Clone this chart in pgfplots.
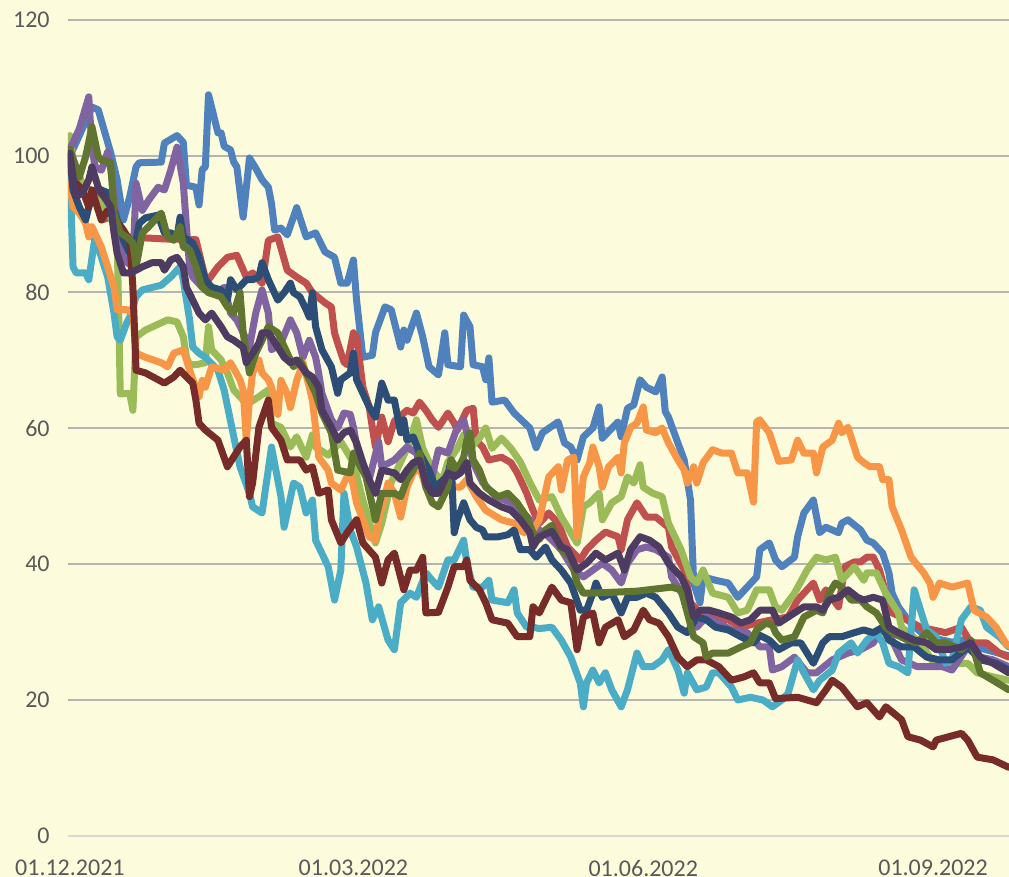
\documentclass[border=0pt]{standalone}
\usepackage{fontspec}
\setmainfont{Carlito}
\usepackage{pgfplots}
\pgfplotsset{compat=1.18}

\definecolor{bg}{HTML}{FCFCDC}
\definecolor{gridgray}{HTML}{B4B4B4}
\definecolor{zerogray}{HTML}{D9D9D9}
\definecolor{labelgray}{HTML}{595959}
\definecolor{s1}{HTML}{4F81BD}
\definecolor{s2}{HTML}{C0504D}
\definecolor{s3}{HTML}{9BBB59}
\definecolor{s4}{HTML}{8064A2}
\definecolor{s5}{HTML}{4BACC6}
\definecolor{s6}{HTML}{F79646}
\definecolor{s7}{HTML}{2C4D75}
\definecolor{s8}{HTML}{772C2A}
\definecolor{s9}{HTML}{5F7530}
\definecolor{s10}{HTML}{4D3B62}

\begin{document}
\begin{tikzpicture}
  % page = 1009 x 877 px at 0.5pt per px
  \fill[bg] (0,0) rectangle (504.5pt,438.5pt);
  \path[use as bounding box] (0,0) rectangle (504.5pt,438.5pt);

  \begin{axis}[
      at={(34pt,20.5pt)}, anchor=south west,
      scale only axis, width=470.5pt, height=408pt,
      xmin=-0.6, xmax=298.1, ymin=0, ymax=120,
      axis line style={draw=none},
      ytick={20,40,...,120},
      extra y ticks={0},
      extra y tick style={grid style={line width=1pt, color=zerogray}},
      xtick={0,90,182,274},
      xticklabels={01.12.2021,01.03.2022,01.06.2022,01.09.2022},
      major tick length=0pt,
      ymajorgrids,
      grid style={line width=1pt, color=gridgray},
      tick label style={font=\fontsize{12}{14}\selectfont, text=labelgray},
      yticklabel style={anchor=east, inner sep=0pt, xshift=-9pt},
      xticklabel style={anchor=north, inner sep=0pt, yshift=-12pt},
      /pgf/number format/assume math mode=true,
      every axis plot/.append style={line width=3.5pt, line join=round, line cap=round, no markers},
    ]

    % series 1 (blue)
    \addplot[s1] coordinates {
      (0,100)(3,103)(7,107.2)(9,106.8)(13,100.4)(15,96.5)(17,90.6)(19,94)(21,98.4)(22,99)
      (29,99.1)(30,101.9)(34,103)(36,102)(37,95.7)(40,95.4)(41,92.8)(42,98)(43,98.4)(44,109)
      (47,103.4)(48,103.4)(49,101.4)(51,100.9)(52,99.1)(53,98.4)(55,91)(57,99.7)(59,98.2)(61,96.5)
      (63,95.4)(64,93)(65,89.1)(67,89.4)(69,88.4)(72,92.4)(75,88.1)(78,88.7)(81,85.9)(84,85.1)
      (86,81.3)(88,81.3)(90,84.7)(91,78.8)(93,70.4)(96,70.7)(97,74)(100,77.8)(102,77.4)(105,71.9)
      (106,74.4)(107,72.9)(110,76.9)(112,73.4)(114,69)(117,67.8)(119,74)(120,69.3)(124,69)(125,76.6)
      (127,74.9)(128,69.3)(131,69)(132,67.1)(133,70.3)(134,63.8)(138,64.1)(141,62.2)(146,60)(148,57.1)
      (150,59.3)(155,60.9)(157,57.8)(159,57.2)(161,55.3)(163,58.7)(166,60)(168,63.1)(169,58.5)(174,60.9)
      (175,58.7)(177,62.9)(179,63.4)(181,67.1)(183,66)(186,65.3)(188,67.5)(189,62.4)(190,61.6)(193,57.8)
      (195,55.3)(197,49.4)(198,37.2)(200,34.3)(201,38.1)(205,37.6)(209,37.2)(212,35.1)(215,36.6)(218,38.1)
      (219,42.1)(222,43.1)(224,40.6)(226,39.6)(230,41)(231,44)(233,47.5)(236,49.4)(238,44.6)(240,45.4)
      (244,44.6)(245,46)(247,46.5)(251,45)(253,43.5)(255,43.1)(258,41.6)(260,38.7)(261,35.7)(263,33.7)
      (266,31.8)(270,30)(275,29)(280,28.5)(285,29)(290,27.5)(298,26.5)
    };

    % series 2 (red)
    \addplot[s2] coordinates {
      (0,100)(1,95)(5,95.5)(9,94)(10,90.6)(13,91)(15,89.6)(18,88.1)(22,88)(30,87.8)
      (40,87.7)(43,82)(44,81.8)(47,83.7)(50,85.1)(53,85.4)(56,82.2)(58,82.8)(61,81.3)(63,87.6)
      (66,88.1)(69,83.2)(72,82.2)(75,81.3)(77,79.9)(81,78.4)(83,77.8)(84,74)(85,72.5)(87,69.7)
      (88,69.3)(90,74)(91,73.4)(93,66)(95,63.1)(96,60.1)(97,57.2)(99,61.6)(101,58)(103,61)
      (107,62.6)(109,62.2)(111,63.8)(113,62.6)(115,61.2)(117,60.1)(120,62.2)(122,60.7)(123,59.7)(126,62.6)
      (128,62.9)(129,58.2)(131,57.2)(133,55.3)(137,55.7)(140,54.9)(142,53.4)(145,50.4)(147,47.9)(149,46)
      (152,47.5)(155,46)(158,42.5)(162,40.6)(164,42.1)(167,43.5)(170,44.7)(174,44)(175,42.1)(177,46.5)
      (180,49)(183,46.9)(186,46.9)(190,45.4)(191,42.5)(195,39.1)(197,34.3)(200,32.8)(204,32.2)(209,31.8)
      (213,30.7)(218,31.3)(223,31.8)(228,32.2)(231,34.7)(236,37.2)(238,34.7)(240,36.2)(244,33.7)(246,39.6)
      (249,40.3)(251,40.3)(253,41)(255,41)(257,39.1)(259,35.7)(261,32.8)(264,32.2)(270,30.7)(274,30.3)
      (278,29.9)(283,30.7)(286,28.4)(291,28.4)(295,26.9)(298,26.3)
    };

    % series 3 (green)
    \addplot[s3] coordinates {
      (0,103)(1,99.4)(3,97)(5,95)(10,93)(13,91)(15,88)(16,65)(19,65.1)(20,62.6)
      (21,73.4)(24,74.4)(31,75.9)(34,75.6)(36,73.4)(37,70.4)(38,69.3)(40,69.3)(43,69.6)(44,74.9)
      (45,71.5)(48,70)(50,68.1)(52,65.6)(55,64.1)(57,63.7)(60,64.6)(63,65.6)(64,60.7)(67,60.1)
      (70,57.2)(72,58.7)(75,55.7)(77,59)(78,57.2)(82,56)(86,58)(90,54.9)(93,49.4)(97,43.1)
      (99,46)(102,52)(103,53)(106,56)(108,58)(110,61.2)(112,57)(115,54)(118,52)(120,55)
      (123,57)(125,59)(127,57)(130,58.5)(132,60)(134,57)(137,58.5)(140,57)(143,55)(146,52)
      (149,49.4)(153,49.9)(156,46.9)(159,44.6)(161,43.1)(163,48.4)(165,49)(168,50.4)(169,46.5)(172,49)
      (175,49.9)(177,52.8)(179,51.9)(181,54.6)(182,51.3)(185,50.4)(188,49.9)(190,46)(194,42.1)(197,38.1)
      (199,37.2)(201,39.1)(204,35.7)(209,35.1)(212,32.8)(215,33.2)(218,36.2)(222,36.2)(224,33.7)(226,33.2)
      (230,35.7)(234,39.1)(237,41)(240,40.6)(243,41)(245,37.6)(249,39.6)(252,37.6)(253,38.7)(256,38.7)
      (259,35.7)(263,32.8)(264,30.7)(270,28.4)(275,24.9)(280,25.4)(285,25.4)(288,24)(293,23.4)(298,22.9)
    };

    % series 4 (purple)
    \addplot[s4] coordinates {
      (0,101)(3,104)(6,108.7)(7,101.3)(8,98.4)(10,97.9)(12,100.6)(13,97.9)(15,90.1)(17,85.1)
      (18,84.4)(20,83.7)(21,96)(23,92)(25,93.5)(28,95.4)(30,95)(32,97.9)(34,101.3)(36,96)
      (37,89.6)(38,83.7)(39,82.2)(42,80.7)(44,80.7)(47,79.9)(49,80.7)(51,76.9)(53,75.9)(55,74)
      (57,71.9)(59,76.9)(61,80.3)(63,76.9)(64,71.5)(67,72.5)(70,75.9)(72,74)(74,70.4)(76,72.9)
      (78,70.4)(79,68)(80,65.1)(83,61.2)(85,60)(87,62.2)(89,62)(90,60.1)(92,55)(95,52.4)
      (98,58)(99,54.3)(103,55.3)(107,57.2)(110,56.3)(114,50.9)(117,56.8)(120,56.3)(123,60.1)(125,61.2)
      (126,59.3)(128,54.9)(131,52)(135,50)(140,49)(145,47)(149,45)(152,44)(156,42.1)(160,39.1)
      (163,38.1)(166,39.1)(169,40.1)(172,39.1)(175,37.2)(177,40.1)(180,42.1)(183,42.5)(186,42.1)(190,41)
      (191,38.1)(195,35.1)(197,32.2)(199,30.7)(202,32.2)(206,31.3)(210,30.3)(215,29.9)(218,28.4)(219,27.8)
      (222,27.8)(223,24.4)(226,24.9)(230,26.3)(234,24)(237,24)(242,25.9)(247,26.9)(251,27.4)(255,28.4)
      (258,30.7)(261,28.8)(264,25.9)(269,24.9)(273,24.9)(277,24.9)(280,24.4)(285,27.8)(289,26.3)(293,25.9)
      (298,24.9)
    };

    % series 5 (aqua)
    \addplot[s5] coordinates {
      (0,97.5)(1,83.7)(2,82.8)(5,82.8)(6,81.8)(8,88.1)(10,85.1)(12,82.2)(14,76.9)(15,73.4)
      (16,72.9)(18,75.4)(19,76.3)(21,79.3)(23,80.3)(29,81)(31,81.8)(32,82.2)(34,83.2)(35,83.7)
      (36,81.8)(38,75.9)(39,71.9)(41,71)(43,70.4)(47,68.5)(49,65.5)(51,61)(54,54.3)(57,50.4)
      (58,48.4)(61,47.5)(64,57.2)(67,49.9)(68,45.4)(71,51.9)(73,51.3)(75,47.5)(77,49.4)(78,43.5)
      (82,39.6)(84,34.7)(86,39.1)(87,50.4)(89,45)(91,42.5)(94,37.2)(96,31.8)(98,33.7)(101,28.8)
      (103,27.4)(105,34.3)(108,35.7)(110,35.1)(113,38.7)(115,37.6)(117,36.6)(120,40.6)(122,40.6)(125,43.5)
      (126,40.1)(128,36.6)(131,36.6)(133,37.6)(134,34.7)(139,34.3)(141,36.2)(142,32.8)(145,30.7)(147,30.7)
      (149,30.5)(153,30.7)(156,28.8)(159,26.3)(162,22.5)(163,19)(164,22.5)(166,24.4)(168,22.5)(170,24)
      (172,21.5)(175,19)(177,21.5)(180,26.9)(182,24.9)(185,24.9)(188,25.9)(190,27.4)(193,24.4)(195,21)
      (196,24)(199,21.5)(202,21.9)(204,24)(206,24)(210,21.9)(212,20)(216,20.4)(220,20)(223,19)
      (226,20)(228,21)(231,25.9)(233,24)(236,21.5)(238,22.9)(242,24.4)(244,26.9)(248,28.4)(250,26.9)
      (253,28.8)(256,29.9)(258,28.4)(260,25.4)(263,24.9)(266,24)(268,36.2)(270,33.2)(272,30.3)(275,29.3)
      (278,25.4)(280,25.9)(283,31.8)(286,33.7)(289,33.2)(291,30.7)(295,29.3)(298,27.8)
    };

    % series 6 (orange)
    \addplot[s6] coordinates {
      (0,96)(1,92.5)(3,91.6)(5,90.1)(6,88.1)(7,89.6)(10,86.6)(12,83.7)(14,80.7)(15,77.4)
      (18,77.4)(20,76.9)(21,71)(24,70.4)(29,69.6)(31,69)(33,71)(36,71.5)(38,68.5)(41,64.6)
      (42,67)(43,66)(45,69)(49,68.5)(51,69.6)(54,67.1)(55,65.6)(56,58.2)(57,64.1)(58,68.1)
      (60,70)(61,68.1)(63,67.1)(64,66)(66,62)(67,67)(69,65)(70,63)(72,67)(74,69.6)
      (76,66)(77,64)(78,60)(79,55.7)(82,53.8)(83,51.9)(86,50.9)(89,53.8)(91,49)(93,46.5)
      (95,44)(97,43.5)(98,46.5)(101,51.9)(103,50.4)(105,46.9)(107,51.3)(109,53.4)(111,54.3)(113,51.3)
      (115,50.4)(117,51.3)(120,52.8)(122,51.3)(124,51.3)(126,52.4)(129,49.9)(132,47.9)(137,46.5)(141,46)
      (144,44.6)(147,45)(149,46.5)(152,52.8)(155,54.3)(156,50.9)(158,55.3)(160,55.7)(161,44)(163,52.8)
      (165,54.9)(166,57.2)(168,54.3)(169,51.3)(171,54.3)(174,55.7)(175,53.4)(176,57.8)(178,60.1)(180,60.7)
      (182,63.1)(183,59.7)(186,59.3)(188,60)(190,57.8)(193,55.3)(195,53.8)(196,51.9)(198,54.3)(199,51.9)
      (201,54.9)(204,56.8)(207,56.3)(210,56.3)(212,53.4)(215,53.4)(217,49.1)(218,60.9)(219,61.2)(222,59.3)
      (225,55.1)(229,55.3)(231,58.2)(233,56.3)(236,56.3)(237,53.4)(239,57.2)(242,58.2)(244,60.7)(245,59.3)
      (247,60.1)(250,55.7)(252,54.9)(254,54.3)(257,54.3)(258,52.4)(260,52.4)(261,48.4)(264,45)(267,41)
      (271,38.7)(273,37.2)(274,35.1)(276,37.2)(280,36.6)(285,37.2)(287,33.2)(291,32.2)(294,30.7)(297,28.4)
      (298,28)
    };

    % series 7 (dark blue)
    \addplot[s7] coordinates {
      (0,100)(1,95)(3,92.5)(5,90.6)(6,92.5)(8,95)(10,95)(12,94.6)(13,93.5)(15,90.6)
      (17,87.6)(20,84.7)(21,87.6)(22,90.1)(24,90.9)(28,91.3)(30,88.7)(32,88.7)(34,88.1)(35,91)
      (36,88.1)(39,87.2)(41,85.1)(43,81.8)(45,80.7)(48,80.3)(50,78.8)(51,81.8)(53,80.3)(56,81.8)
      (58,81.8)(60,82.2)(61,84.3)(63,81.8)(66,78.8)(68,79.9)(70,81.3)(71,79.9)(73,79.3)(75,77.4)
      (76,76.3)(77,79.9)(78,74.9)(80,71.5)(83,69)(85,65.1)(86,67.1)(89,68.1)(90,71)(91,67.1)
      (93,65.1)(95,63.1)(97,61.6)(99,66.6)(101,64.1)(103,64.1)(105,59.3)(106,61.2)(107,58.2)(109,58.7)
      (111,56.3)(114,53.8)(116,51.3)(120,53)(121,55.3)(122,44.6)(123,46.5)(125,49)(127,46.5)(129,45.4)
      (131,45)(132,44)(136,44)(139,44.3)(141,45)(143,42.1)(146,42.1)(148,41)(151,42.5)(153,40.6)
      (156,39.1)(159,37.2)(162,33.2)(164,33.2)(166,35.7)(167,37.2)(169,35.1)(172,35.7)(175,32.8)(177,35.1)
      (180,35.1)(183,35.7)(186,35.1)(190,32.8)(193,30.7)(196,29.9)(199,32.2)(202,31.8)(205,30.7)(209,30.3)
      (213,29.3)(217,28.4)(219,29.5)(222,28.8)(225,27.4)(229,28.4)(232,28.4)(236,25.4)(239,28.4)(241,29.3)
      (245,29.3)(249,29.9)(252,30.3)(255,29.9)(258,30.7)(260,28.8)(264,27.8)(268,27.8)(272,26.3)(276,25.9)
      (280,25.9)(285,27.8)(289,25.9)(294,25.4)(298,24.4)
    };

    % series 8 (dark red)
    \addplot[s8] coordinates {
      (0,100)(1,96.5)(4,95)(6,92.5)(7,95)(9,92)(10,90.6)(12,92)(14,91)(17,89.1)
      (19,87.6)(20,80.7)(21,68.5)(24,68.1)(28,67.1)(30,66.6)(33,67.5)(35,68.5)(37,67.5)(39,66.6)
      (40,64.1)(41,60.7)(43,59.7)(47,58.2)(50,54.3)(54,57.2)(56,58.2)(57,49.9)(58,51.9)(60,60.1)
      (63,64.1)(64,60.1)(67,58.2)(69,55.3)(71,55.3)(73,55.3)(75,53.8)(77,54.3)(79,50.4)(82,50.9)
      (83,46.5)(86,43.1)(88,44.6)(91,46.5)(93,43.1)(97,41)(99,37.2)(101,40.6)(103,41.6)(106,36.2)
      (108,39.1)(110,39.1)(112,41)(113,32.8)(117,32.9)(120,36.6)(122,39.6)(125,39.6)(126,40.6)(127,37.6)
      (130,36.2)(132,34.3)(134,31.8)(139,31.3)(142,29.3)(146,29.3)(147,33.7)(149,32.8)(151,34.7)(153,36.6)
      (156,34.7)(159,34.3)(161,27.4)(163,32.2)(166,32.8)(168,28.4)(170,30.7)(174,31.8)(176,29.3)(179,30.3)
      (182,33.2)(184,31.8)(187,31.3)(190,29.3)(193,26.3)(196,24.9)(199,25.9)(202,25.9)(206,24.9)(210,22.9)
      (214,23.4)(217,24)(219,22.5)(222,22.5)(224,20.2)(231,20.4)(237,19.6)(240,21.5)(242,22.9)(245,21.9)
      (250,19)(253,19.6)(257,17.5)(259,19)(264,17.1)(266,14.6)(270,14.1)(274,13.1)(275,14.1)(279,14.6)
      (283,15.1)(285,14.1)(288,11.6)(293,11.2)(298,10.1)
    };

    % series 9 (dark green)
    \addplot[s9] coordinates {
      (0,101)(3,96.9)(5,99.9)(7,104.3)(9,99.9)(10,99.4)(13,99)(14,91.6)(16,88.7)(18,88.1)
      (20,87.2)(21,83.7)(23,88.7)(25,89.6)(29,91.6)(31,88.1)(33,87.6)(35,89.6)(36,86.6)(38,86.2)
      (40,83.7)(42,80.7)(44,79.9)(48,79.3)(50,77.8)(52,76.9)(54,79.9)(55,74)(57,68.1)(59,71)
      (61,72.9)(63,74.9)(66,74)(69,71)(71,69)(73,70)(76,67.1)(78,65.1)(80,62.2)(83,59.3)
      (85,53.8)(89,53.4)(90,56.3)(94,52.8)(97,46.5)(99,50.4)(103,50.4)(105,49.9)(107,52.4)(109,53.8)
      (111,56.3)(113,51.3)(115,49)(117,48.4)(120,51.3)(121,55.3)(123,53.8)(125,55.7)(126,58.2)(127,59.3)
      (128,55.3)(130,53.8)(132,51.3)(136,49.9)(139,50.4)(142,49)(145,46.9)(147,44.6)(149,43.6)(151,45)
      (153,45.7)(156,42.1)(159,41)(161,37.2)(163,35.7)(170,35.8)(180,36)(191,36.6)(194,36.2)(196,32.8)
      (198,29.3)(201,28.4)(202,26.3)(204,26.9)(209,26.9)(213,27.8)(216,28.4)(218,30.3)(221,31.3)(223,31)
      (224,29.9)(226,28.8)(230,29.3)(233,32.2)(237,33.2)(239,32.8)(241,35.7)(243,37.2)(245,36.6)(248,34.7)
      (251,34.7)(253,33.7)(256,32.8)(259,30.7)(261,29.9)(266,28.8)(269,28.4)(272,29.9)(275,28.4)(278,28.4)
      (283,27.4)(286,28.8)(289,24)(293,22.9)(298,21.5)
    };

    % series 10 (dark purple)
    \addplot[s10] coordinates {
      (0,100.4)(1,96.9)(2,94)(4,94.6)(6,96.5)(7,98.4)(9,95.4)(10,94.6)(13,92.5)(14,88.7)
      (15,85.7)(17,82.8)(19,82.8)(21,83.2)(23,83.7)(26,84.3)(29,84.3)(30,83.2)(32,84.7)(34,85.1)
      (36,83.7)(37,80.7)(39,78.8)(41,76.9)(43,75.9)(45,76.9)(48,74.9)(50,73.4)(52,72.9)(55,71.9)
      (56,69.6)(58,71)(60,72.5)(61,74)(63,74)(66,71.9)(68,70.4)(70,69.6)(72,70)(75,68.1)
      (77,67.5)(79,66)(80,62.6)(83,60.1)(85,58.2)(87,59.3)(89,59.7)(91,57.8)(93,54.9)(95,52.4)
      (97,50.4)(99,53.8)(103,53.4)(105,52.4)(107,53.8)(109,54.9)(111,55.3)(113,51.9)(115,50.4)(117,50.4)
      (120,53.4)(122,52.8)(124,53.4)(126,54.9)(127,51.9)(130,50.4)(133,49.4)(137,48.4)(140,47.9)(143,46.5)
      (146,44.6)(147,42.5)(149,44)(153,44.8)(156,42.5)(158,42.1)(161,39.1)(164,40.1)(167,41.6)(170,40.6)
      (174,41.6)(176,39.1)(178,42.1)(181,44)(184,43.5)(187,42.5)(190,40.1)(194,38.1)(196,36.2)(198,32.2)
      (200,33.2)(203,33.2)(206,32.8)(210,32.2)(213,31.3)(216,31.8)(219,33.2)(223,33.2)(225,31.3)(230,32.8)
      (233,33.7)(237,33.7)(239,33.2)(241,34.7)(244,35.1)(247,36.2)(250,35.1)(252,34.7)(255,35.1)(258,34.7)
      (260,30.7)(263,29.9)(268,28.8)(272,28.4)(275,27.4)(279,27.4)(283,27.8)(286,28.4)(289,26.3)(293,25.4)
      (298,24)
    };
  \end{axis}
\end{tikzpicture}
\end{document}
